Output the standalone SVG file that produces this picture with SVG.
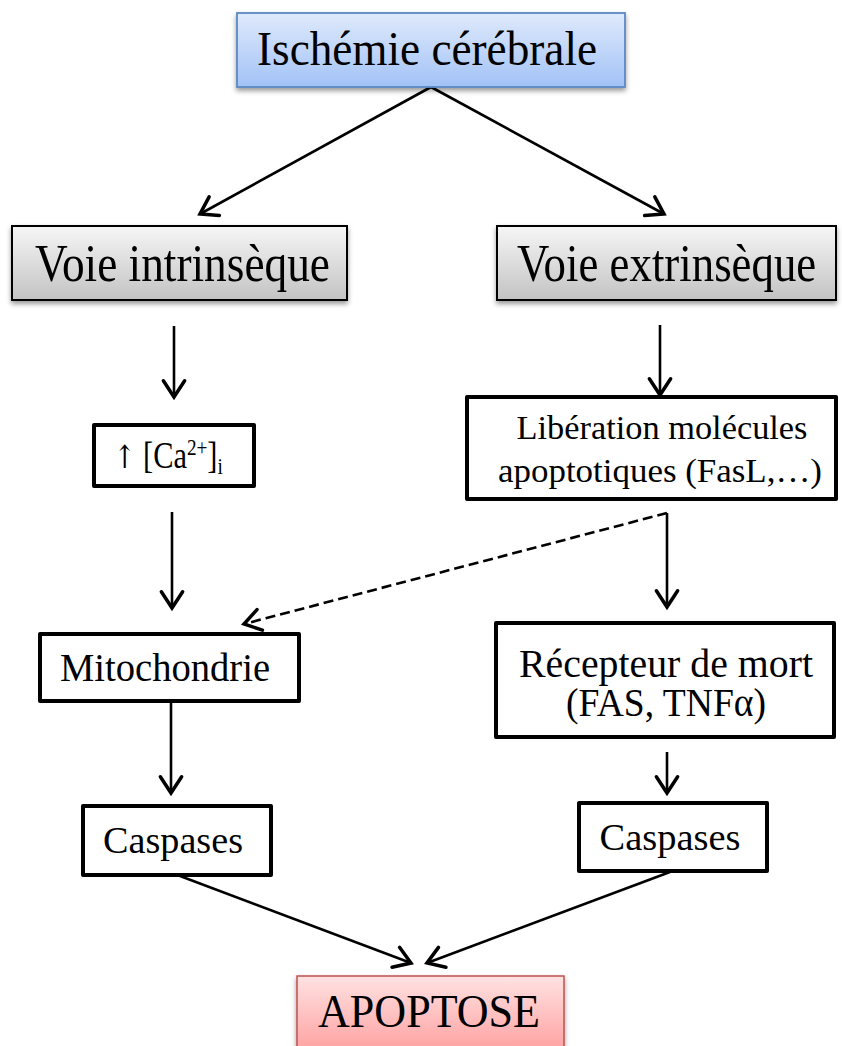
<svg xmlns="http://www.w3.org/2000/svg" width="842" height="1046" viewBox="0 0 842 1046">
<style>
text{font-family:"Liberation Serif","Times New Roman",serif;fill:#000}
.sym{font-family:"DejaVu Serif","Liberation Serif",serif;fill:#000}
.box{fill:#fff;stroke:#000;stroke-width:4;stroke-linejoin:round}
.gray{fill:url(#gGray);stroke:#000;stroke-width:2;filter:url(#sh)}
.conn{stroke:#000;stroke-width:2.6;fill:none;marker-end:url(#arr)}
.dash{stroke-dasharray:10,5}
</style>
<defs>
<linearGradient id="gBlue" x1="0" y1="0" x2="0" y2="1"><stop offset="0" stop-color="#dfeafc"/><stop offset="1" stop-color="#a2c2f6"/></linearGradient>
<linearGradient id="gGray" x1="0" y1="0" x2="0" y2="1"><stop offset="0" stop-color="#f6f6f6"/><stop offset="1" stop-color="#c3c3c3"/></linearGradient>
<linearGradient id="gPink" x1="0" y1="0" x2="0" y2="1"><stop offset="0" stop-color="#ffe2e2"/><stop offset="1" stop-color="#ff9d9d"/></linearGradient>
<filter id="sh" x="-10%" y="-20%" width="120%" height="150%"><feDropShadow dx="0" dy="3" stdDeviation="2.5" flood-color="#000" flood-opacity="0.4"/></filter>
<marker id="arr" markerUnits="userSpaceOnUse" markerWidth="30" markerHeight="30" viewBox="-16 -12 20 24" refX="0" refY="0" orient="auto"><path d="M-13,-8.5 L0,0 L-13,8.5" fill="none" stroke="#000" stroke-width="2.8" stroke-linecap="round" stroke-linejoin="miter"/></marker>
</defs>
<g id="connectors">
<path class="conn" d="M431,87 L200,214"/>
<path class="conn" d="M431,87 L664,214"/>
<path class="conn" d="M174,326 L174,397"/>
<path class="conn" d="M660,325 L660,395"/>
<path class="conn" d="M172,512 L172,608"/>
<path class="conn dash" d="M667,513 L244,624"/>
<path class="conn" d="M667,513 L667,607"/>
<path class="conn" d="M171,701 L171,793"/>
<path class="conn" d="M667,752 L667,793"/>
<path class="conn" d="M180,876 L411,963"/>
<path class="conn" d="M670,872 L427,963"/>
</g>
<g id="ischemie">
<rect x="237" y="13" width="388" height="74" fill="url(#gBlue)" stroke="#5b88c4" stroke-width="1.8" filter="url(#sh)"/>
<text x="257" y="65" font-size="48" textLength="340" lengthAdjust="spacingAndGlyphs">Ischémie cérébrale</text>
</g>
<g id="intrinseque">
<rect class="gray" x="12" y="226" width="335" height="74"/>
<g transform="translate(35,281) scale(0.85,1)">
<text x="0" y="0" font-size="52" textLength="347" lengthAdjust="spacingAndGlyphs">Voie intrinsèque</text>
</g>
</g>
<g id="extrinseque">
<rect class="gray" x="497" y="226" width="339" height="74"/>
<g transform="translate(517,281) scale(0.85,1)">
<text x="0" y="0" font-size="52" textLength="352" lengthAdjust="spacingAndGlyphs">Voie extrinsèque</text>
</g>
</g>
<g id="calcium">
<rect class="box" x="94" y="425" width="160" height="61"/>
<g transform="translate(114,468) scale(0.8,1)">
<text x="0" y="0" font-size="38"><tspan class="sym" font-size="32">↑</tspan> [Ca<tspan font-size="24" dy="-13">2+</tspan><tspan dy="13">]</tspan><tspan font-size="24" dy="6">i</tspan></text>
</g>
</g>
<g id="liberation">
<rect class="box" x="467" y="397" width="369" height="102"/>
<text x="662" y="439" font-size="34" text-anchor="middle" textLength="291" lengthAdjust="spacingAndGlyphs">Libération molécules</text>
<text x="660" y="482" font-size="34" text-anchor="middle" textLength="324" lengthAdjust="spacingAndGlyphs">apoptotiques (FasL,…)</text>
</g>
<g id="mitochondrie">
<rect class="box" x="40" y="634" width="259" height="67"/>
<text x="60" y="681" font-size="40" textLength="210" lengthAdjust="spacingAndGlyphs">Mitochondrie</text>
</g>
<g id="recepteur">
<rect class="box" x="496" y="623" width="338" height="114"/>
<text x="666" y="677" font-size="39" text-anchor="middle" textLength="294" lengthAdjust="spacingAndGlyphs">Récepteur de mort</text>
<text x="666" y="716" font-size="39" text-anchor="middle" textLength="200" lengthAdjust="spacingAndGlyphs">(FAS, TNFα)</text>
</g>
<g id="caspases1">
<rect class="box" x="83" y="806" width="188" height="69"/>
<text x="173" y="853" font-size="38" text-anchor="middle" textLength="140" lengthAdjust="spacingAndGlyphs">Caspases</text>
</g>
<g id="caspases2">
<rect class="box" x="579" y="803" width="188" height="68"/>
<text x="670" y="850" font-size="38" text-anchor="middle" textLength="141" lengthAdjust="spacingAndGlyphs">Caspases</text>
</g>
<g id="apoptose">
<rect x="297" y="976" width="267" height="80" fill="url(#gPink)" stroke="#c0504d" stroke-width="1.5" filter="url(#sh)"/>
<text x="318" y="1027" font-size="46" textLength="222" lengthAdjust="spacingAndGlyphs">APOPTOSE</text>
</g>
</svg>
